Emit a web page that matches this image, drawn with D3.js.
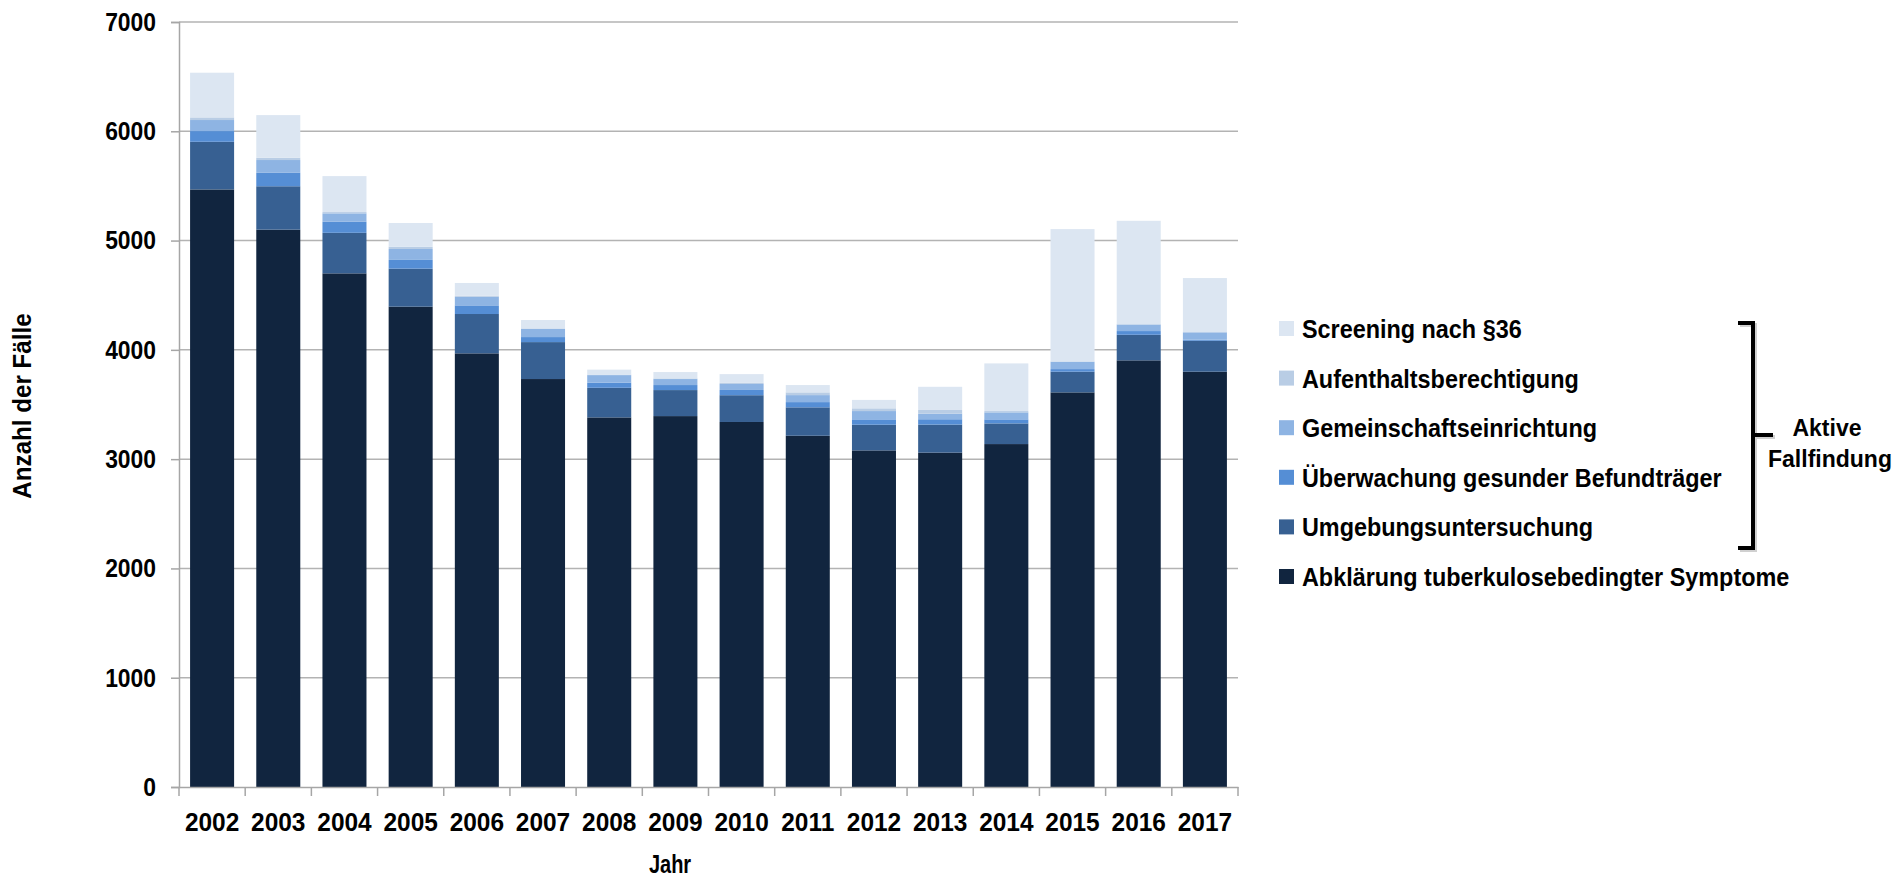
<!DOCTYPE html>
<html>
<head>
<meta charset="utf-8">
<script src="https://d3js.org/d3.v7.min.js"></script>
<style>
  body { margin: 0; background: #fff; }
  text { font-family: "Liberation Sans", Arial, sans-serif; font-weight: bold; fill: #000; }
</style>
</head>
<body>
<div id="chart"></div>
<script>
/* Stacked bars: Anlass der Diagnose, 2002-2017 */

var years = ["2002", "2003", "2004", "2005", "2006", "2007", "2008", "2009",
             "2010", "2011", "2012", "2013", "2014", "2015", "2016", "2017"];

var abklaerung = [5468, 5100, 4700, 4395, 3968, 3733, 3382, 3394, 3340, 3214, 3080, 3060, 3138, 3611, 3904, 3800];
var umgebung   = [436, 397, 371, 348, 360, 338, 271, 238, 245, 260, 235, 256, 189, 189, 234, 283];
var ueberwachung = [98, 123, 101, 80, 79, 46, 46, 46, 48, 48, 49, 49, 37, 24, 34, 10];
var gemeinschaft = [101, 117, 77, 100, 79, 75, 70, 55, 55, 64, 76, 51, 64, 66, 59, 67];
var aufenthalt = [24, 21, 12, 21, 10, 5, 5, 6, 10, 25, 25, 34, 12, 5, 5, 3];
var screening  = [409, 390, 329, 217, 116, 76, 45, 58, 80, 67, 77, 212, 436, 1210, 945, 494];

// bottom to top
var seriesNames = ["Abklärung tuberkulosebedingter Symptome", "Umgebungsuntersuchung",
                   "Überwachung gesunder Befundträger", "Gemeinschaftseinrichtung",
                   "Aufenthaltsberechtigung", "Screening nach §36"];
var seriesValues = [abklaerung, umgebung, ueberwachung, gemeinschaft, aufenthalt, screening];
var colors = ["#11253f", "#376092", "#558ed5", "#8eb4e3", "#b9cde5", "#dce6f2"];

var yTicks = [0, 1000, 2000, 3000, 4000, 5000, 6000, 7000];

var width = 1899,
    height = 878;
var margin = { top: 22, left: 179, bottom: 91, right: 661 };

// no narrow font installed, so squeeze the bold sans a little
var squeeze = 0.9;

var table = years.map(function(y, i) {
  var row = { year: y };
  seriesNames.forEach(function(s, k) { row[s] = seriesValues[k][i]; });
  return row;
});

var stacked = d3.stack().keys(seriesNames)(table);

var x = d3.scaleBand()
    .domain(years)
    .range([margin.left, width - margin.right])
    .paddingInner(0.335)
    .paddingOuter(0.1675);

var y = d3.scaleLinear()
    .domain([0, 7000])
    .range([height - margin.bottom, margin.top]);

var color = d3.scaleOrdinal().domain(seriesNames).range(colors);

var svg = d3.select("#chart").append("svg")
    .attr("width", width)
    .attr("height", height);

// gridlines
svg.append("g")
  .selectAll("line")
  .data(yTicks.slice(1))
  .enter().append("line")
    .attr("x1", margin.left)
    .attr("x2", width - margin.right)
    .attr("y1", function(d) { return y(d); })
    .attr("y2", function(d) { return y(d); })
    .style("stroke", "#b3b3b3")
    .style("stroke-width", "1.5px");

// bars
svg.append("g")
  .selectAll("g")
  .data(stacked)
  .enter().append("g")
    .style("fill", function(d) { return color(d.key); })
  .selectAll("rect")
  .data(function(d) { return d; })
  .enter().append("rect")
    .attr("x", function(d) { return x(d.data.year); })
    .attr("width", x.bandwidth())
    .attr("y", function(d) { return y(d[1]); })
    .attr("height", function(d) { return y(d[0]) - y(d[1]); });

// y axis
var yAxis = svg.append("g")
    .attr("transform", "translate(" + margin.left + ",0)")
    .call(d3.axisLeft(y).tickValues(yTicks).tickSize(8).tickPadding(15).tickFormat(d3.format("d")));
yAxis.select(".domain").style("stroke", "#a6a6a6").style("stroke-width", "1.5px");
yAxis.selectAll(".tick line").style("stroke", "#a6a6a6").style("stroke-width", "1.5px");
yAxis.selectAll(".tick text")
    .style("font-size", "26px").style("font-family", null)
    .attr("x", -23 / 0.88)
    .attr("transform", "scale(0.88,1)");

// x axis, ticks sit between the categories
var xAxis = svg.append("g")
    .attr("transform", "translate(0," + y(0) + ")")
    .call(d3.axisBottom(x).tickSize(0).tickPadding(26));
xAxis.select(".domain").style("stroke", "#a6a6a6").style("stroke-width", "1.5px");
xAxis.selectAll(".tick text")
    .style("font-size", "26px").style("font-family", null)
    .attr("transform", "scale(0.94,1)");

var step = x.step();
xAxis.append("g")
  .selectAll("line")
  .data(d3.range(years.length + 1))
  .enter().append("line")
    .attr("x1", function(i) { return margin.left + i * step; })
    .attr("x2", function(i) { return margin.left + i * step; })
    .attr("y1", 0)
    .attr("y2", 9)
    .style("stroke", "#a6a6a6")
    .style("stroke-width", "1.5px");

// axis titles
svg.append("text")
    .attr("transform", "translate(670,873) scale(0.8,1)")
    .attr("text-anchor", "middle")
    .style("font-size", "25px")
    .text("Jahr");

svg.append("text")
    .attr("transform", "translate(31,406) rotate(-90) scale(0.93,1)")
    .attr("text-anchor", "middle")
    .style("font-size", "26px")
    .text("Anzahl der Fälle");

// legend, top to bottom
var legendNames = seriesNames.slice().reverse();
var legend = svg.append("g")
  .selectAll("g")
  .data(legendNames)
  .enter().append("g")
    .attr("transform", function(d, i) { return "translate(1279," + (329 + i * 49.6) + ")"; });

legend.append("rect")
    .attr("x", 0)
    .attr("y", -8)
    .attr("width", 15)
    .attr("height", 15)
    .style("fill", function(d) { return color(d); });

legend.append("text")
    .attr("x", 23 / squeeze)
    .attr("y", 9)
    .attr("transform", "scale(" + squeeze + ",1)")
    .style("font-size", "26px")
    .text(function(d) { return d; });

// bracket for "Aktive Fallfindung"
var bracketPath = "M1738,323 H1753 V548 H1738 M1753,435 H1773";
var bracket = svg.append("g");
bracket.append("path")
    .attr("d", bracketPath)
    .attr("transform", "translate(2,2)")
    .style("fill", "none")
    .style("stroke", "#d0d0d0")
    .style("stroke-width", "4px");
bracket.append("path")
    .attr("d", bracketPath)
    .style("fill", "none")
    .style("stroke", "#000")
    .style("stroke-width", "4px");

bracket.append("text")
    .attr("x", 1827)
    .attr("y", 436)
    .attr("text-anchor", "middle")
    .style("font-size", "23px")
    .text("Aktive");
bracket.append("text")
    .attr("x", 1830)
    .attr("y", 467)
    .attr("text-anchor", "middle")
    .style("font-size", "23px")
    .text("Fallfindung");
</script>
</body>
</html>
